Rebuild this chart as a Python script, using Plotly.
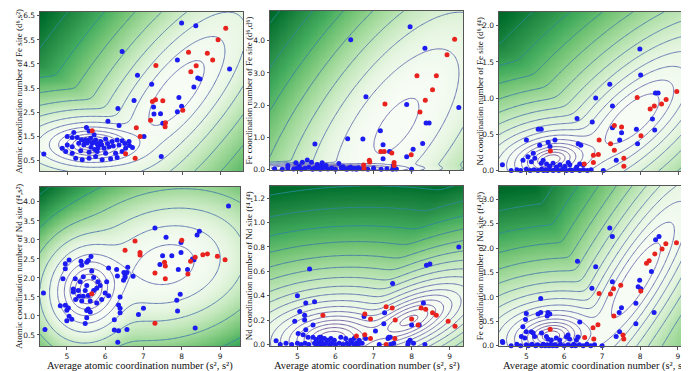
import numpy as np
import plotly.graph_objects as go

# ============================================================
# Scatter data
# ============================================================

# Panel 1: Fe site (d6, s2)
P1_BLUE_X = [7.98, 8.35, 6.43, 7.87, 9.23, 6.83, 8.40, 8.46, 7.20, 8.30, 6.74, 7.91, 7.25, 6.32, 7.98, 7.87,
             7.26, 7.43, 6.06, 7.49, 6.35, 7.00, 7.45, 4.39,
             5.50, 5.17, 5.57, 5.70, 5.00, 5.13, 5.26, 5.37, 5.48, 5.55, 5.61, 5.74, 5.87, 6.00, 6.17, 6.30,
             6.43, 6.61, 6.70, 6.52, 6.35, 6.09, 5.96, 5.83, 5.65, 5.43, 5.30, 5.13, 5.00, 4.87, 4.96, 5.13,
             5.35, 5.57, 5.78, 6.00, 6.26, 6.43, 5.22, 5.39, 5.57, 5.74, 5.91, 6.13, 6.30,
             5.68, 5.78, 5.52, 5.90, 5.62, 5.80, 6.05, 5.45, 5.72, 6.20, 6.50, 6.62]
P1_BLUE_Y = [6.20, 6.09, 5.02, 4.67, 4.29, 4.03, 3.92, 3.88, 3.66, 3.55, 2.99, 3.11, 2.72, 2.65, 2.75, 2.52,
             2.42, 2.44, 2.12, 2.04, 1.95, 1.49, 0.66, 0.77,
             1.86, 1.66, 1.72, 1.56, 1.49, 1.45, 1.45, 1.36, 1.36, 1.31, 1.42, 1.35, 1.28, 1.39, 1.28, 1.35,
             1.31, 1.28, 1.03, 1.00, 1.14, 1.07, 1.00, 1.14, 1.21, 1.14, 1.21, 1.07, 1.14, 1.00, 0.87, 0.80,
             0.90, 0.84, 0.87, 0.80, 0.80, 0.87, 0.59, 0.53, 0.59, 0.66, 0.53, 0.57, 0.62,
             1.25, 1.18, 1.22, 1.15, 1.05, 1.02, 1.20, 1.28, 0.95, 1.10, 1.20, 1.12]
P1_RED_X = [9.13, 8.93, 8.16, 8.65, 7.31, 8.79, 8.36, 8.22, 7.30, 7.22, 7.49, 8.01, 7.56, 7.55, 7.17, 6.80,
            6.90, 6.52, 6.77, 5.65]
P1_RED_Y = [5.98, 5.51, 4.99, 4.95, 4.44, 4.67, 4.43, 4.18, 3.02, 2.94, 2.97, 2.58, 2.06, 1.90, 2.17, 1.85,
            1.49, 0.78, 0.59, 1.73]

# Panel 2: Fe site (d6, d6)
P2_BLUE_X = [7.96, 6.40, 8.35, 6.80, 7.87, 9.24, 7.18, 6.32, 6.72, 8.38, 8.46, 8.29, 5.46, 7.25, 8.04, 7.42,
             7.25, 7.87, 7.52, 8.00,
             4.96, 5.13, 5.26, 5.37, 5.52, 5.65, 6.09, 4.75, 5.05, 5.60, 5.75, 6.20,
             4.40, 4.60, 4.75, 4.90, 5.00, 5.10, 5.20, 5.30, 5.40, 5.45, 5.50, 5.55, 5.60, 5.65, 5.70, 5.80,
             5.90, 6.00, 6.15, 6.25, 6.30, 6.35, 6.40, 6.45, 6.50, 6.55, 6.60, 6.70, 6.85, 7.00, 7.20, 7.35,
             7.50, 7.60]
P2_BLUE_Y = [4.44, 4.03, 3.77, 2.26, 2.02, 1.92, 1.20, 0.95, 0.94, 1.44, 1.44, 0.80, 0.79, 0.76, 0.62, 0.55,
             0.33, 0.39, 0.12, 0.00,
             0.20, 0.22, 0.29, 0.22, 0.15, 0.20, 0.18, 0.12, 0.10, 0.10, 0.12, 0.08,
             0.02, 0.00, 0.04, 0.01, 0.05, 0.00, 0.03, 0.06, 0.00, 0.04, 0.02, 0.05, 0.00, 0.03, 0.06, 0.01,
             0.04, 0.00, 0.05, 0.02, 0.00, 0.04, 0.06, 0.01, 0.03, 0.00, 0.05, 0.02, 0.00, 0.03, 0.00, 0.02,
             0.00, 0.01]
P2_RED_X = [9.13, 8.93, 8.14, 8.65, 8.55, 8.36, 8.22, 7.30, 7.19, 7.28, 7.48, 7.99, 6.89, 6.90, 7.54, 7.54,
            6.74, 6.75]
P2_RED_Y = [4.05, 3.57, 2.91, 2.91, 2.48, 2.15, 1.78, 2.03, 0.55, 0.55, 0.51, 0.45, 0.28, 0.23, 0.21, 0.12,
            0.13, 0.02]

# Panel 3: Fe site (d6, f4)
P3_BLUE_X = [7.98, 8.00, 9.24, 7.19, 8.39, 8.46, 6.82, 7.26, 6.33, 6.73, 7.89, 7.26, 7.50, 8.31, 8.37, 7.45,
             7.92, 7.36, 7.02, 6.43, 4.37,
             5.00, 5.31, 5.39, 5.35, 5.57, 5.62, 5.18, 5.04, 5.22, 5.13, 4.91, 5.44, 5.39, 5.53, 5.61, 5.70,
             5.79, 5.88, 6.01, 6.10, 6.14, 6.32, 6.40, 6.49, 5.75, 6.36,
             4.60, 4.75, 4.85, 5.00, 5.10, 5.20, 5.30, 5.40, 5.45, 5.50, 5.55, 5.60, 5.70, 5.75, 5.85, 5.95,
             6.05, 6.15, 6.20, 6.30, 6.40, 6.50, 6.60, 6.70]
P3_BLUE_Y = [1.68, 1.32, 1.31, 1.19, 1.07, 1.07, 1.00, 0.89, 0.72, 0.67, 0.57, 0.59, 0.52, 0.71, 0.56, 0.42,
             0.37, 0.14, 0.00, 0.35, 0.08,
             0.42, 0.57, 0.57, 0.35, 0.39, 0.33, 0.24, 0.19, 0.17, 0.12, 0.14, 0.14, 0.10, 0.09, 0.06, 0.10,
             0.05, 0.08, 0.06, 0.11, 0.08, 0.05, 0.09, 0.08, 0.42, 0.37,
             0.00, 0.01, 0.00, 0.02, 0.00, 0.01, 0.00, 0.02, 0.00, 0.01, 0.00, 0.02, 0.00, 0.01, 0.00, 0.02,
             0.00, 0.01, 0.00, 0.02, 0.00, 0.01, 0.00, 0.01]
P3_RED_X = [9.15, 8.95, 7.91, 8.36, 8.55, 8.67, 8.25, 7.31, 7.50, 8.01, 6.91, 7.21, 7.31, 7.56, 7.56, 6.76,
            6.89, 6.76, 6.52, 5.63]
P3_RED_Y = [1.18, 1.09, 1.01, 0.89, 0.92, 0.98, 0.85, 0.62, 0.60, 0.48, 0.42, 0.37, 0.28, 0.17, 0.06, 0.21,
            0.22, 0.11, 0.09, 0.27]

# Panel 4: Nd site (f4, s2)
P4_BLUE_X = [9.22, 8.46, 8.40, 7.30, 7.59, 7.98, 7.98, 7.74, 7.43, 7.50, 8.15, 8.32, 8.28, 7.91, 6.30, 6.49,
             6.52, 6.48, 6.73, 6.59, 6.09, 6.32, 7.96, 7.87, 7.89, 7.00, 6.87, 6.39, 6.39, 6.24, 6.35, 6.24,
             6.57, 6.33, 8.35, 4.43, 4.39,
             5.06, 4.96, 4.96, 5.37, 5.52, 5.56, 5.63, 5.39, 5.65, 4.90, 5.22, 5.35, 5.43, 5.70, 5.81, 6.04,
             6.00, 5.17, 5.17, 5.30, 5.52, 5.48, 5.70, 5.78, 5.87, 5.56, 5.43, 5.32, 5.23, 5.39, 5.61, 5.78,
             5.91, 6.09, 4.96, 4.83, 5.04, 5.56, 5.61, 5.52, 5.06, 5.00, 5.13, 5.00, 5.52, 5.48, 6.57, 6.39,
             6.35, 6.52]
P4_BLUE_Y = [3.89, 3.23, 3.13, 3.31, 3.07, 2.93, 2.67, 2.58, 2.35, 2.58, 2.22, 2.48, 2.50, 2.22, 2.22, 2.14,
             2.05, 1.94, 2.04, 2.28, 2.26, 2.05, 1.57, 1.41, 1.13, 1.20, 1.04, 1.20, 1.08, 0.90, 0.61, 0.63,
             0.64, 0.31, 0.68, 0.64, 1.60,
             2.47, 2.37, 2.24, 2.44, 2.41, 2.46, 2.56, 2.33, 2.18, 1.98, 1.98, 1.90, 2.03, 2.01, 1.90, 1.90,
             1.60, 1.71, 1.63, 1.67, 1.80, 1.67, 1.67, 1.73, 1.80, 1.54, 1.52, 1.52, 1.43, 1.39, 1.39, 1.34,
             1.43, 1.53, 1.28, 1.27, 1.21, 1.18, 1.10, 1.14, 0.99, 1.15, 0.91, 0.87, 0.95, 0.80, 2.14, 1.50,
             1.29, 2.01]
P4_RED_X = [6.78, 6.52, 6.91, 6.91, 8.00, 8.23, 8.35, 8.55, 8.67, 8.93, 9.13, 7.55, 7.57, 7.30, 7.57, 8.16,
            7.30, 5.65]
P4_RED_Y = [2.97, 2.73, 2.67, 2.60, 2.99, 2.44, 2.54, 2.61, 2.63, 2.57, 2.48, 2.41, 2.31, 2.13, 1.98, 2.10,
            0.81, 1.58]

# Panel 5: Nd site (f4, f4)
P5_BLUE_X = [9.24, 8.39, 8.48, 5.32, 7.50, 5.00, 5.22, 5.45, 8.31, 5.06, 5.19, 4.93, 5.19, 6.75, 7.29, 7.27,
             7.05, 8.00, 8.20, 7.38, 7.44, 7.92, 4.44, 5.02, 5.22, 5.41, 5.62,
             5.15, 5.28, 5.41, 5.49, 5.58, 5.62, 5.71, 5.80, 5.88, 5.97, 6.14, 6.27, 6.40, 6.49, 6.62, 6.79,
             7.40, 7.53, 7.96, 8.05,
             4.55, 4.70, 4.85, 5.00, 5.10, 5.20, 5.30, 5.45, 5.50, 5.55, 5.60, 5.65, 5.70, 5.75, 5.85, 5.90,
             6.00, 6.10, 6.20, 6.30, 6.35, 6.45, 6.50, 6.55, 6.60, 6.70, 7.15, 7.45, 7.90, 8.35]
P5_BLUE_Y = [0.80, 0.65, 0.66, 0.62, 0.50, 0.40, 0.34, 0.35, 0.34, 0.27, 0.24, 0.19, 0.20, 0.23, 0.26, 0.17,
             0.11, 0.16, 0.16, 0.05, 0.06, 0.02, 0.03, 0.09, 0.12, 0.16, 0.06,
             0.08, 0.06, 0.06, 0.04, 0.06, 0.035, 0.05, 0.035, 0.05, 0.035, 0.06, 0.05, 0.035, 0.05, 0.035, 0.05,
             0.06, 0.01, 0.035, 0.01,
             0.00, 0.01, 0.00, 0.01, 0.00, 0.01, 0.00, 0.01, 0.00, 0.01, 0.00, 0.01, 0.00, 0.01, 0.00, 0.01,
             0.00, 0.01, 0.00, 0.01, 0.00, 0.01, 0.00, 0.01, 0.00, 0.01, 0.00, 0.00, 0.00, 0.00]
P5_RED_X = [9.14, 8.96, 8.65, 8.55, 8.37, 8.25, 8.00, 8.17, 7.49, 7.33, 7.57, 7.56, 7.33, 6.77, 6.92, 6.77,
            6.92, 6.55, 5.67]
P5_RED_Y = [0.15, 0.19, 0.24, 0.26, 0.29, 0.30, 0.21, 0.16, 0.30, 0.31, 0.20, 0.05, 0.00, 0.25, 0.21, 0.08,
            0.05, 0.07, 0.24]

# Panel 6: Nd site (f4, d6)
P6_BLUE_X = [9.25, 8.50, 8.41, 7.20, 7.27, 6.35, 6.83, 8.30, 7.99, 7.27, 7.95, 8.02, 6.73, 5.38, 7.89, 7.51,
             7.45, 8.37, 7.89, 7.37, 4.37, 7.46,
             5.00, 5.31, 5.38, 5.57, 5.62, 5.55, 4.98, 6.41, 4.91, 5.00, 5.13, 5.18, 4.87, 4.96, 5.22, 5.40,
             5.53, 5.57, 5.66, 5.79, 5.88, 6.06, 6.10, 6.14, 6.32, 6.36, 4.38,
             4.60, 4.75, 4.85, 5.00, 5.05, 5.15, 5.25, 5.30, 5.40, 5.45, 5.50, 5.55, 5.60, 5.65, 5.70, 5.75,
             5.80, 5.90, 6.00, 6.10, 6.20, 6.25, 6.30, 6.40, 6.50, 6.60, 6.70, 6.80, 7.00]
P6_BLUE_Y = [2.76, 2.24, 2.17, 2.41, 2.24, 1.73, 1.62, 1.52, 1.34, 1.31, 1.21, 1.17, 1.18, 0.97, 0.87, 0.78,
             0.68, 0.68, 0.45, 0.19, 0.09, 0.29,
             0.66, 0.65, 0.68, 0.68, 0.65, 0.61, 0.54, 0.49, 0.39, 0.29, 0.29, 0.26, 0.19, 0.16, 0.19, 0.26,
             0.19, 0.14, 0.12, 0.16, 0.12, 0.18, 0.22, 0.14, 0.12, 0.18, 0.07,
             0.00, 0.03, 0.00, 0.02, 0.00, 0.03, 0.00, 0.02, 0.00, 0.03, 0.00, 0.02, 0.00, 0.03, 0.00, 0.02,
             0.00, 0.03, 0.00, 0.02, 0.00, 0.03, 0.00, 0.02, 0.00, 0.03, 0.00, 0.02, 0.00]
P6_RED_X = [9.16, 8.96, 8.68, 8.58, 8.39, 8.24, 8.17, 7.49, 7.30, 7.22, 6.92, 8.02, 7.31, 6.89, 6.76, 7.55,
            7.57, 6.78, 6.54, 5.63]
P6_RED_Y = [2.11, 2.11, 2.09, 1.98, 1.88, 1.74, 1.69, 1.24, 1.17, 1.06, 1.07, 1.12, 0.61, 0.43, 0.37, 0.22,
            0.14, 0.14, 0.17, 0.34]

# ============================================================
# Gaussian mixture behind each panel (means, covariances, weights)
# ============================================================

P1_MEANS = [[5.65, 1.15], [7.85, 3.30]]
P1_COVS = [[[0.30, 0.00], [0.00, 0.13]], [[0.42, 0.58], [0.58, 1.45]]]
P1_WEIGHTS = [0.62, 0.38]

P2_MEANS = [[5.90, 0.03], [7.60, 1.35]]
P2_COVS = [[[0.55, 0.00], [0.00, 0.0025]], [[0.75, 0.75], [0.75, 1.60]]]
P2_WEIGHTS = [0.55, 0.45]

P3_MEANS = [[5.65, 0.15], [7.80, 0.72]]
P3_COVS = [[[0.30, 0.02], [0.02, 0.025]], [[0.45, 0.16], [0.16, 0.11]]]
P3_WEIGHTS = [0.60, 0.40]

P4_MEANS = [[5.55, 1.70], [7.60, 2.35]]
P4_COVS = [[[0.22, 0.02], [0.02, 0.28]], [[0.85, 0.10], [0.10, 0.45]]]
P4_WEIGHTS = [0.55, 0.45]

P5_MEANS = [[5.90, 0.05], [7.95, 0.20]]
P5_COVS = [[[0.45, 0.01], [0.01, 0.012]], [[0.35, 0.04], [0.04, 0.012]]]
P5_WEIGHTS = [0.65, 0.35]

P6_MEANS = [[5.65, 0.20], [7.90, 1.35]]
P6_COVS = [[[0.30, 0.02], [0.02, 0.06]], [[0.40, 0.40], [0.40, 0.55]]]
P6_WEIGHTS = [0.60, 0.40]

# contour spacing per panel: lines drawn on log(NLL - min + offset)
CONTOUR_OFFSET = [0.15, 1.0, 0.2, 0.2, 0.4, 0.2]
CONTOUR_STEP = [0.45, 0.3, 0.36, 0.42, 0.3, 0.36]

# axis ranges and ticks
X_RANGES = [[4.29, 9.58], [4.28, 9.35], [4.28, 9.35], [4.30, 9.52], [4.28, 9.35], [4.28, 9.37]]
Y_RANGES = [[0.05, 6.66], [-0.03, 4.93], [-0.01, 2.19], [0.20, 4.39], [-0.015, 1.30], [-0.01, 3.27]]
Y_TICKS = [
    [0.5, 1.5, 2.5, 3.5, 4.5, 5.5, 6.5],
    [0.0, 1.0, 2.0, 3.0, 4.0],
    [0.0, 0.5, 1.0, 1.5, 2.0],
    [0.5, 1.0, 1.5, 2.0, 2.5, 3.0, 3.5, 4.0],
    [0.0, 0.2, 0.4, 0.6, 0.8, 1.0, 1.2],
    [0.0, 0.5, 1.0, 1.5, 2.0, 2.5, 3.0],
]
X_TICKS = [5, 6, 7, 8, 9]
Y_TITLES = [
    "Atomic coordination number of Fe site (d⁶,s²)",
    "Fe coordination number of Fe site (d⁶,d⁶)",
    "Nd coordination number of Fe site (d⁶,f⁴)",
    "Atomic coordination number of Nd site (f⁴,s²)",
    "Nd coordination number of Nd site (f⁴,f⁴)",
    "Fe coordination number of Nd site (f⁴,d⁶)",
]
X_TITLE = "Average atomic coordination number (s², s²)"

# plot-area boxes in pixels (left, right, top, bottom) on a 689x371 canvas
W, H = 689, 371
BOXES = [
    (32, 235, 4, 165), (262, 455, 3, 164), (491, 684, 4, 165),
    (32, 232, 181, 342), (262, 455, 180, 342), (491, 684, 180, 342),
]
YTITLE_X = [11, 241, 472]

GREENS = [[0.0, "#f7fcf5"], [0.125, "#e5f5e0"], [0.25, "#c7e9c0"], [0.375, "#a1d99b"],
          [0.5, "#74c476"], [0.625, "#41ab5d"], [0.75, "#238b45"], [0.875, "#006d2c"], [1.0, "#00441b"]]
LINE_SCALE = [[0.0, "#6a3d8c"], [0.35, "#5a5aa6"], [0.7, "#3f6fae"], [1.0, "#2c8da3"]]


def gmm_nll(gx, gy, means, covs, weights):
    """Negative log-likelihood of a 2-D Gaussian mixture on a grid."""
    X, Y = np.meshgrid(gx, gy)
    logs = []
    for m, c, w in zip(means, covs, weights):
        c = np.array(c)
        inv = np.linalg.inv(c)
        det = np.linalg.det(c)
        dx = X - m[0]
        dy = Y - m[1]
        q = inv[0, 0] * dx * dx + 2 * inv[0, 1] * dx * dy + inv[1, 1] * dy * dy
        logs.append(np.log(w) - 0.5 * q - np.log(2 * np.pi * np.sqrt(det)))
    logs = np.array(logs)
    mx = logs.max(axis=0)
    return -(mx + np.log(np.exp(logs - mx).sum(axis=0)))


panels = [
    (P1_BLUE_X, P1_BLUE_Y, P1_RED_X, P1_RED_Y, P1_MEANS, P1_COVS, P1_WEIGHTS),
    (P2_BLUE_X, P2_BLUE_Y, P2_RED_X, P2_RED_Y, P2_MEANS, P2_COVS, P2_WEIGHTS),
    (P3_BLUE_X, P3_BLUE_Y, P3_RED_X, P3_RED_Y, P3_MEANS, P3_COVS, P3_WEIGHTS),
    (P4_BLUE_X, P4_BLUE_Y, P4_RED_X, P4_RED_Y, P4_MEANS, P4_COVS, P4_WEIGHTS),
    (P5_BLUE_X, P5_BLUE_Y, P5_RED_X, P5_RED_Y, P5_MEANS, P5_COVS, P5_WEIGHTS),
    (P6_BLUE_X, P6_BLUE_Y, P6_RED_X, P6_RED_Y, P6_MEANS, P6_COVS, P6_WEIGHTS),
]

fig = go.Figure()
layout = {}
annotations = []

for i, (bx, by, rx, ry, means, covs, weights) in enumerate(panels):
    k = i + 1
    xa = "x" if k == 1 else f"x{k}"
    ya = "y" if k == 1 else f"y{k}"
    xr, yr = X_RANGES[i], Y_RANGES[i]

    gx = np.linspace(xr[0], xr[1], 170)
    gy = np.linspace(yr[0], yr[1], 140)
    Z = gmm_nll(gx, gy, means, covs, weights)
    Zs = Z - Z.min()

    # background shade: ignore the very dense core so the broad area stays pale
    base = np.percentile(Z, 8)
    shade = np.log1p(np.clip(Z - base, 0, None))
    shade = np.round(0.9 * (shade / shade.max()) ** 2.0, 4)

    off = CONTOUR_OFFSET[i]
    lines = np.round(np.log(Zs + off), 3)

    fig.add_trace(go.Heatmap(
        x=gx, y=gy, z=shade, colorscale=GREENS, zmin=0, zmax=1,
        showscale=False, zsmooth="best", hoverinfo="skip", xaxis=xa, yaxis=ya,
    ))
    lo = np.log(off)
    fig.add_trace(go.Contour(
        x=gx, y=gy, z=lines, showscale=False, hoverinfo="skip",
        contours=dict(coloring="lines", start=lo + CONTOUR_STEP[i], end=lines.max(), size=CONTOUR_STEP[i]),
        colorscale=LINE_SCALE, line=dict(width=1), opacity=0.85, xaxis=xa, yaxis=ya,
    ))
    fig.add_trace(go.Scatter(
        x=bx, y=by, mode="markers", marker=dict(color="#1c1cf0", size=5),
        cliponaxis=False, showlegend=False, xaxis=xa, yaxis=ya,
    ))
    fig.add_trace(go.Scatter(
        x=rx, y=ry, mode="markers", marker=dict(color="#e8231f", size=5),
        cliponaxis=False, showlegend=False, xaxis=xa, yaxis=ya,
    ))

    left, right, top, bottom = BOXES[i]
    axis_common = dict(showline=True, linecolor="#555", linewidth=0.8, mirror=True,
                       ticks="outside", ticklen=2.5, tickcolor="#555", showgrid=False, zeroline=False,
                       tickfont=dict(family="DejaVu Sans", size=7.5, color="#222"))
    layout["xaxis" if k == 1 else f"xaxis{k}"] = dict(
        domain=[left / W, right / W], range=xr, anchor=ya, tickvals=X_TICKS,
        showticklabels=(k > 3), **axis_common)
    layout["yaxis" if k == 1 else f"yaxis{k}"] = dict(
        domain=[1 - bottom / H, 1 - top / H], range=yr, anchor=xa, tickvals=Y_TICKS[i],
        tickformat=".1f", **axis_common)

    annotations.append(dict(
        text=Y_TITLES[i], textangle=-90, xref="paper", yref="paper",
        x=YTITLE_X[i % 3] / W, y=1 - (top + bottom) / 2 / H, xanchor="center", yanchor="middle",
        showarrow=False, font=dict(family="Liberation Serif", size=9, color="#111")))
    if k > 3:
        annotations.append(dict(
            text=X_TITLE, xref="paper", yref="paper",
            x=(left + right) / 2 / W, y=1 - 362 / H, xanchor="center", yanchor="middle",
            showarrow=False, font=dict(family="Liberation Serif", size=10.5, color="#111")))

fig.update_layout(
    width=W, height=H, margin=dict(l=0, r=0, t=0, b=0),
    paper_bgcolor="white", plot_bgcolor="white", showlegend=False,
    annotations=annotations, **layout,
)

fig.write_html("out.html")
